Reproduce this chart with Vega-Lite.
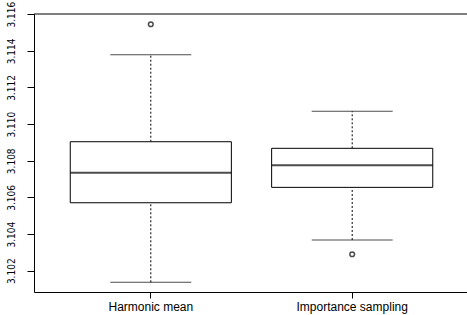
{
  "$schema": "https://vega.github.io/schema/vega-lite/v6.json",
  "width": 433,
  "height": 278,
  "autosize": "none",
  "padding": {"left": 34, "top": 14, "right": 0, "bottom": 23},
  "background": "white",
  "config": {
    "view": {"stroke": null},
    "axis": {"grid": false, "domainColor": "black", "tickColor": "black", "labelColor": "black", "domainWidth": 1, "tickWidth": 1},
    "axisY": {"title": null, "labelAngle": -90, "labelAlign": "center", "labelBaseline": "alphabetic", "labelOverlap": false, "labelBound": false, "tickSize": 7, "labelPadding": 13, "labelFont": "Liberation Sans Narrow, DejaVu Sans Condensed, Liberation Sans", "labelFontSize": 10, "domain": true, "format": ".3f", "tickCount": 8},
    "axisX": {"title": null, "labelAngle": 0, "tickSize": 6, "labelPadding": 12, "labelBaseline": "alphabetic", "labelFont": "Liberation Sans", "labelFontSize": 12, "domain": true}
  },
  "datasets": {
    "boxes": [
      {"method": "Harmonic mean", "lo": 3.10137, "q1": 3.10571, "med": 3.10735, "q3": 3.10904, "hi": 3.11379},
      {"method": "Importance sampling", "lo": 3.10368, "q1": 3.10655, "med": 3.10776, "q3": 3.10868, "hi": 3.11070}
    ],
    "outliers": [
      {"method": "Harmonic mean", "value": 3.11545},
      {"method": "Importance sampling", "value": 3.10290}
    ]
  },
  "layer": [
    {
      "data": {"name": "boxes"},
      "mark": {"type": "rule", "strokeDash": [2, 2], "color": "black", "strokeWidth": 1},
      "encoding": {
        "x": {
          "field": "method", "type": "nominal", "sort": ["Harmonic mean", "Importance sampling"],
          "scale": {"type": "band", "paddingInner": 0, "paddingOuter": 0.08, "range": [0, 435]}
        },
        "y": {
          "field": "q3", "type": "quantitative",
          "scale": {"domain": [3.10084, 3.11601], "nice": false, "zero": false},
          "axis": {"values": [3.102, 3.104, 3.106, 3.108, 3.110, 3.112, 3.114, 3.116]}
        },
        "y2": {"field": "hi"}
      }
    },
    {
      "data": {"name": "boxes"},
      "mark": {"type": "rule", "strokeDash": [2, 2], "color": "black", "strokeWidth": 1},
      "encoding": {
        "x": {"field": "method", "type": "nominal", "sort": ["Harmonic mean", "Importance sampling"]},
        "y": {"field": "lo", "type": "quantitative", "axis": {"values": [3.102, 3.104, 3.106, 3.108, 3.110, 3.112, 3.114, 3.116]}},
        "y2": {"field": "q1"}
      }
    },
    {
      "data": {"name": "boxes"},
      "mark": {"type": "bar", "fill": "white", "stroke": "black", "strokeWidth": 1, "width": {"band": 0.8}},
      "encoding": {
        "x": {"field": "method", "type": "nominal", "sort": ["Harmonic mean", "Importance sampling"]},
        "y": {"field": "q1", "type": "quantitative", "axis": {"values": [3.102, 3.104, 3.106, 3.108, 3.110, 3.112, 3.114, 3.116]}},
        "y2": {"field": "q3"}
      }
    },
    {
      "data": {"name": "boxes"},
      "mark": {"type": "tick", "color": "black", "size": 161, "thickness": 2},
      "encoding": {
        "x": {"field": "method", "type": "nominal", "sort": ["Harmonic mean", "Importance sampling"]},
        "y": {"field": "med", "type": "quantitative", "axis": {"values": [3.102, 3.104, 3.106, 3.108, 3.110, 3.112, 3.114, 3.116]}}
      }
    },
    {
      "data": {"name": "boxes"},
      "mark": {"type": "tick", "color": "black", "size": 81, "thickness": 1},
      "encoding": {
        "x": {"field": "method", "type": "nominal", "sort": ["Harmonic mean", "Importance sampling"]},
        "y": {"field": "hi", "type": "quantitative", "axis": {"values": [3.102, 3.104, 3.106, 3.108, 3.110, 3.112, 3.114, 3.116]}}
      }
    },
    {
      "data": {"name": "boxes"},
      "mark": {"type": "tick", "color": "black", "size": 81, "thickness": 1},
      "encoding": {
        "x": {"field": "method", "type": "nominal", "sort": ["Harmonic mean", "Importance sampling"]},
        "y": {"field": "lo", "type": "quantitative", "axis": {"values": [3.102, 3.104, 3.106, 3.108, 3.110, 3.112, 3.114, 3.116]}}
      }
    },
    {
      "data": {"name": "outliers"},
      "mark": {"type": "point", "shape": "circle", "filled": false, "stroke": "black", "strokeWidth": 1.5, "size": 22},
      "encoding": {
        "x": {"field": "method", "type": "nominal", "sort": ["Harmonic mean", "Importance sampling"]},
        "y": {"field": "value", "type": "quantitative", "axis": {"values": [3.102, 3.104, 3.106, 3.108, 3.110, 3.112, 3.114, 3.116]}}
      }
    },
    {
      "data": {"values": [{}]},
      "mark": {"type": "rule", "color": "black", "strokeWidth": 1},
      "encoding": {
        "y": {"datum": 3.11601, "type": "quantitative", "axis": {"values": [3.102, 3.104, 3.106, 3.108, 3.110, 3.112, 3.114, 3.116]}}
      }
    }
  ]
}
